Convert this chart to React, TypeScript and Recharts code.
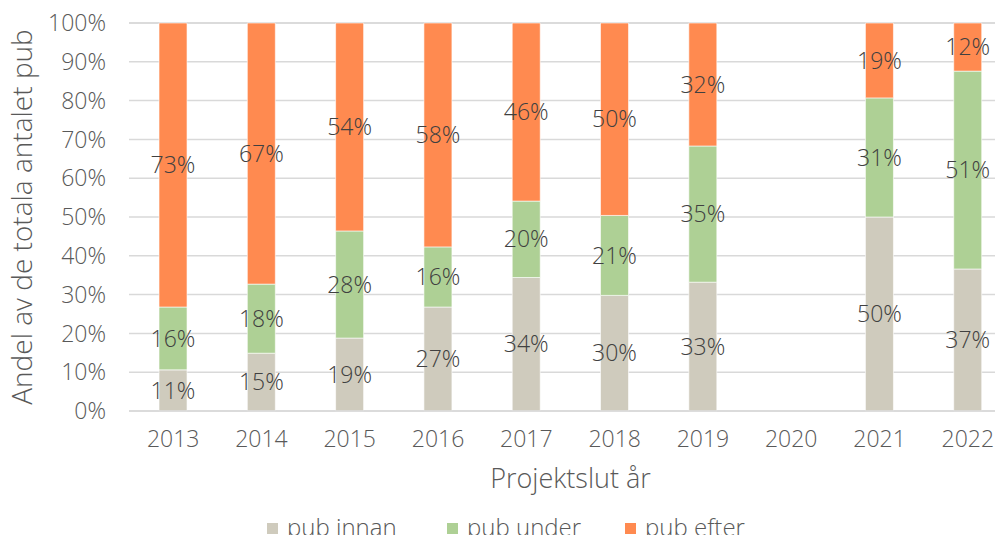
import { BarChart, Bar, XAxis, YAxis, CartesianGrid, Legend, LabelList } from 'recharts'

const years = ['2013', '2014', '2015', '2016', '2017', '2018', '2019', '2020', '2021', '2022']
const pubInnan = [10.6, 14.9, 18.8, 26.8, 34.4, 29.8, 33.2, null, 50.0, 36.6]
const pubUnder = [16.2, 17.8, 27.6, 15.5, 19.7, 20.6, 35.1, null, 30.7, 51.0]
const pubEfter = [73.2, 67.3, 53.6, 57.7, 45.9, 49.6, 31.7, null, 19.3, 12.4]
const yTicks = [0, 10, 20, 30, 40, 50, 60, 70, 80, 90, 100]

const series = [
  { key: 'innan', name: 'pub innan', color: '#cfcbbd' },
  { key: 'under', name: 'pub under', color: '#aed095' },
  { key: 'efter', name: 'pub efter', color: '#ff8a50' },
]

const data = years.map((y, i) => ({ year: y, innan: pubInnan[i], under: pubUnder[i], efter: pubEfter[i] }))

const font = '"Open Sans", Lato, sans-serif'

function LegendRow() {
  return (
    <div style={{ display: 'flex', paddingLeft: 267, paddingTop: 24, lineHeight: '24px', fontFamily: font, fontWeight: 300, fontSize: 24, color: '#595959' }}>
      {series.map((s, i) => (
        <div key={s.key} style={{ display: 'flex', alignItems: 'center', width: i === 0 ? 180 : 178 }}>
          <span style={{ width: 11, height: 11, background: s.color, marginRight: 9, marginTop: 3 }} />
          <span>{s.name}</span>
        </div>
      ))}
    </div>
  )
}

export default function App() {
  const fmt = (v: any) => (v == null || v === 0 ? '' : `${Math.round(Number(v))}%`)
  return (
    <div style={{ margin: -8, width: 1003, height: 543, overflow: 'hidden', position: 'relative', background: '#fff' }}>
      <BarChart width={1020} height={543} data={data} margin={{ top: 23, right: 8, bottom: 0, left: 0 }} barCategoryGap="34%">
        <CartesianGrid vertical={false} stroke="#d9d9d9" strokeWidth={1.5} />
        <XAxis
          dataKey="year"
          height={80}
          axisLine={{ stroke: '#d9d9d9', strokeWidth: 1.5 }}
          tickLine={false}
          tickSize={0}
          tickMargin={20}
          tick={{ fill: '#595959', fontSize: 23, fontWeight: 300, fontFamily: font }}
          label={{ value: 'Projektslut år', position: 'insideBottom', offset: 3, fill: '#595959', fontSize: 27, fontWeight: 300, fontFamily: font }}
        />
        <YAxis
          width={129}
          domain={[0, 100]}
          ticks={yTicks}
          tickFormatter={(v: number) => `${v}%`}
          axisLine={false}
          tickLine={false}
          tickSize={0}
          tickMargin={23}
          tick={{ fill: '#595959', fontSize: 23, fontWeight: 300, fontFamily: font }}
          label={{ value: 'Andel av de totala antalet pub', angle: -90, position: 'insideLeft', offset: 22, fill: '#595959', fontSize: 28, fontWeight: 300, fontFamily: font, style: { textAnchor: 'middle' } }}
        />
        <Legend verticalAlign="bottom" height={52} content={() => <LegendRow />} />
        {series.map(s => (
          <Bar key={s.key} dataKey={s.key} name={s.name} stackId="a" fill={s.color} stroke="#fff" strokeWidth={0.6} isAnimationActive={false}>
            <LabelList dataKey={s.key} position="center" formatter={fmt} fill="#404040" fontSize={23} fontWeight={300} fontFamily={font} />
          </Bar>
        ))}
      </BarChart>
    </div>
  )
}
